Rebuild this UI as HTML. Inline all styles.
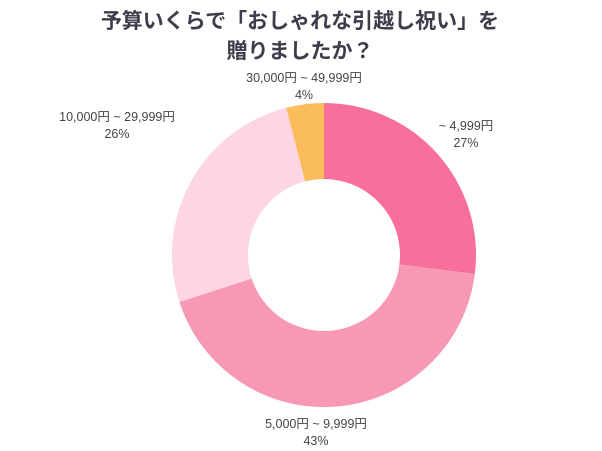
<!DOCTYPE html>
<html><head><meta charset="utf-8"><style>
html,body{margin:0;padding:0;background:#fff;width:602px;height:451px;overflow:hidden}
</style></head><body>
<svg width="602" height="451" viewBox="0 0 602 451" xmlns="http://www.w3.org/2000/svg">
<g font-family="Liberation Sans, Noto Sans CJK JP, sans-serif" fill="#3d3d4b" font-weight="bold" font-size="21" text-anchor="middle">
<text x="300" y="28">予算いくらで「おしゃれな引越し祝い」を</text>
<text x="300" y="58">贈りましたか？</text>
</g>
<path d="M324 103 A152 152 0 0 1 474.8 274 L399.4 264.5 A76 76 0 0 0 324 179 Z" fill="#f76f9a"/>
<path d="M474.8 274 A152 152 0 0 1 179.4 302 L251.7 278.5 A76 76 0 0 0 399.4 264.5 Z" fill="#f799b5"/>
<path d="M179.4 302 A152 152 0 0 1 286.2 107.8 L305.1 181.4 A76 76 0 0 0 251.7 278.5 Z" fill="#fdd5e3"/>
<path d="M286.2 107.8 A152 152 0 0 1 324 103 L324 179 A76 76 0 0 0 305.1 181.4 Z" fill="#fbbd5c"/>
<g font-family="Liberation Sans, Noto Sans CJK JP, sans-serif" fill="#444" font-size="12.5" text-anchor="middle">
<text x="304" y="82">30,000円 ~ 49,999円</text><text x="304" y="99">4%</text>
<text x="466" y="130">~ 4,999円</text><text x="466" y="147">27%</text>
<text x="117" y="121">10,000円 ~ 29,999円</text><text x="117" y="138">26%</text>
<text x="316" y="428">5,000円 ~ 9,999円</text><text x="316" y="445">43%</text>
</g>
</svg>
</body></html>
